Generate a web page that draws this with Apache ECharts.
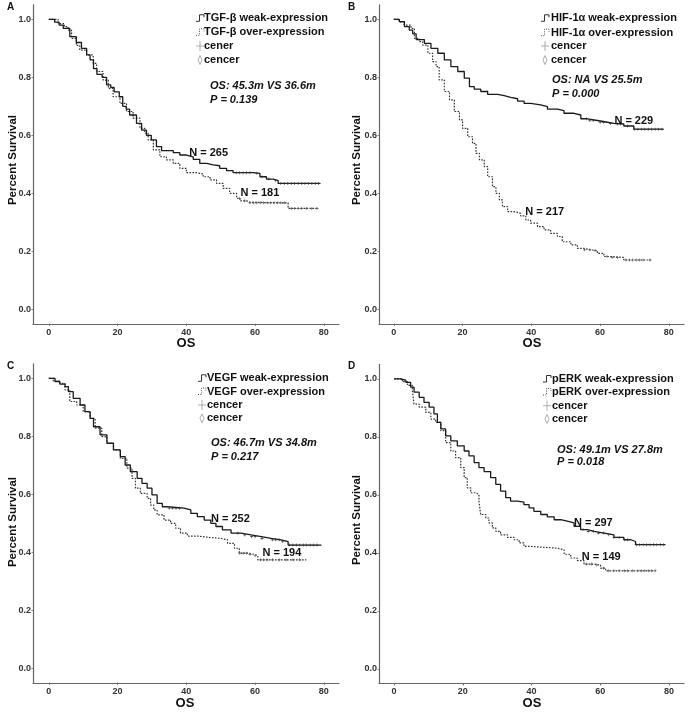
<!DOCTYPE html>
<html><head><meta charset="utf-8">
<script src="https://cdn.jsdelivr.net/npm/echarts@6/dist/echarts.min.js"></script>
<style>html,body{margin:0;padding:0;background:#fff}#c{width:689px;height:713px}</style>
</head><body><div id="c"></div><script>
// ---------------- DATA ----------------
const xTicks = [0, 20, 40, 60, 80];
const yTicks = [0, 0.2, 0.4, 0.6, 0.8, 1.0];

// Panel A: TGF-beta
const aWeak = [[0,1],[1.7,0.99],[3,0.98],[4.2,0.969],[6.1,0.94],[8,0.92],[9.5,0.9],[11,0.877],[12,0.86],[13,0.83],[14,0.81],[15.5,0.8],[16.8,0.774],[18,0.765],[19,0.75],[20.5,0.733],[21.5,0.7],[22.5,0.69],[23.5,0.67],[25.5,0.641],[27,0.618],[28.4,0.6],[29.8,0.584],[31.3,0.561],[32.8,0.547],[36.2,0.54],[38.1,0.532],[40,0.526],[42,0.517],[43.9,0.503],[45.9,0.498],[47.8,0.495],[49.7,0.486],[51.7,0.478],[53.6,0.471],[59.4,0.469],[61.4,0.457],[63.3,0.449],[65.3,0.444],[66.7,0.434],[79,0.434]];
const aOver = [[0,1],[2.7,0.985],[4.5,0.975],[5.6,0.963],[6.6,0.934],[8,0.91],[9,0.894],[11,0.877],[12.9,0.848],[13.9,0.82],[15.8,0.79],[17.3,0.762],[18.7,0.733],[20.7,0.71],[22.6,0.682],[24.5,0.659],[26.5,0.624],[27.9,0.607],[28.9,0.584],[30.4,0.55],[32.3,0.526],[34.2,0.515],[36.2,0.503],[38.1,0.486],[40,0.471],[42.9,0.467],[44.9,0.457],[46.9,0.446],[48.8,0.434],[50.7,0.417],[52.6,0.4],[54.6,0.383],[55.6,0.374],[57.5,0.369],[58.5,0.367],[69.6,0.348],[78.4,0.348]];
const aWeakCens = [54.5,55.5,56.5,57.5,58.5,60.5,62,64,66,67.5,68.5,69.5,70.5,71.5,72.5,73.5,74.5,75.5,76.5,77.5,78.5];
const aOverCens = [55.5,57,58.5,59.5,60.5,61.5,62.5,63.5,64.5,65.5,66.5,67.5,68.5,70.5,71.5,72.5,73.5,75,76.5,78];
const aNotes = [[46.5,0.539,'N = 265'],[61.4,0.401,'N = 181']];
const aLegend = ['TGF-β weak-expression','TGF-β over-expression','cener','cencer'];
const aStats = ['OS: 45.3m VS 36.6m','P = 0.139'];

// Panel B: HIF-1alpha
const bWeak = [[0,1],[1.6,0.992],[3.1,0.975],[4.5,0.963],[5.5,0.95],[6.5,0.93],[8.9,0.917],[10.8,0.9],[12.8,0.883],[14.7,0.86],[16.6,0.837],[18.6,0.82],[20.5,0.797],[22,0.768],[23.4,0.759],[25.3,0.751],[27.3,0.741],[30.2,0.737],[32.1,0.731],[34,0.726],[36,0.718],[37.9,0.71],[39.8,0.705],[42.7,0.699],[44.7,0.69],[47.6,0.685],[49.5,0.676],[52.4,0.67],[54.4,0.657],[56.3,0.651],[59.2,0.645],[62.1,0.641],[64,0.639],[66.9,0.632],[69.8,0.621],[78.5,0.621]];
const bOver = [[0,1],[1.6,0.99],[3,0.98],[5,0.969],[6,0.934],[7.4,0.923],[8.4,0.911],[9.9,0.883],[11.3,0.854],[12.3,0.837],[13.2,0.791],[14.7,0.751],[16.2,0.722],[17.6,0.682],[19.1,0.653],[20,0.624],[21.5,0.595],[22.9,0.572],[23.9,0.538],[24.9,0.515],[26.3,0.492],[27.3,0.457],[28.7,0.423],[29.7,0.4],[30.7,0.377],[31.6,0.354],[33.1,0.337],[35,0.331],[36.9,0.322],[38.4,0.308],[39.8,0.297],[41.8,0.285],[43.7,0.274],[45.6,0.262],[47.6,0.251],[49,0.233],[51.5,0.222],[53.4,0.21],[55.3,0.205],[57.3,0.202],[59.2,0.193],[61.1,0.182],[63.1,0.179],[66.9,0.17],[75.1,0.17]];
const bWeakCens = [56,57,58,60,61,63,65,66,68,70,71,72,73,74,75,76,77,78];
const bOverCens = [55.5,57,58.5,62,63.5,65,67.5,68.5,69.5,70.5,71.5,72.5,74.5];
const bNotes = [[69.8,0.651,'N = 229'],[43.9,0.334,'N = 217']];
const bLegend = ['HIF-1α weak-expression','HIF-1α over-expression','cencer','cencer'];
const bStats = ['OS: NA VS 25.5m','P = 0.000'];

// Panel C: VEGF
const cWeak = [[0,1],[1.8,0.989],[3.2,0.98],[4.7,0.971],[5.7,0.954],[7.1,0.931],[9.1,0.908],[10.5,0.885],[12,0.862],[13,0.833],[14.9,0.805],[16.9,0.776],[18.8,0.753],[20.8,0.73],[22.2,0.701],[23.7,0.678],[25.7,0.655],[27.1,0.638],[28.6,0.621],[30,0.598],[31.5,0.569],[33,0.557],[34.4,0.552],[39.3,0.546],[41.3,0.534],[43.2,0.523],[45.2,0.511],[47.1,0.5],[48.6,0.489],[50.5,0.477],[53,0.466],[55.9,0.46],[58.8,0.454],[61.8,0.448],[64.7,0.443],[67.6,0.437],[69.6,0.425],[79.3,0.425]];
const cOver = [[0,1],[1.3,0.99],[3.2,0.983],[4.7,0.96],[6.1,0.92],[8.1,0.908],[10,0.885],[12,0.862],[13.5,0.828],[15.4,0.799],[16.9,0.776],[18.8,0.753],[20.8,0.724],[22.7,0.69],[24.2,0.655],[25.2,0.621],[26.6,0.603],[28.6,0.586],[29.6,0.563],[30.5,0.546],[31.5,0.529],[33.5,0.511],[35.4,0.5],[36.9,0.483],[38.3,0.466],[40.3,0.456],[43.2,0.451],[47.1,0.448],[50,0.443],[52,0.431],[54,0.414],[55.4,0.397],[57.9,0.393],[59.8,0.388],[60.8,0.374],[74.9,0.374]];
const cWeakCens = [35,36,37,38,55,57,59,60,62,65,66,67,68,70,71,72,73,74,75,76,77,78];
const cOverCens = [55.5,56.5,57.5,58.5,60,61.5,62.5,63.5,65,67,69,71,73];
const cNotes = [[52.8,0.515,'N = 252'],[67.8,0.397,'N = 194']];
const cLegend = ['VEGF weak-expression','VEGF over-expression','cencer','cencer'];
const cStats = ['OS: 46.7m VS 34.8m','P = 0.217'];

// Panel D: pERK
const dWeak = [[0,1],[1.9,0.995],[3.4,0.988],[4.8,0.971],[5.8,0.954],[7.3,0.936],[8.7,0.919],[10.2,0.902],[11.6,0.879],[12.6,0.85],[13.6,0.827],[15,0.803],[16.5,0.786],[18.4,0.769],[20.4,0.751],[21.8,0.734],[23.3,0.711],[24.7,0.694],[26.2,0.68],[28.1,0.659],[29.6,0.636],[31,0.613],[32.5,0.59],[33.9,0.578],[35.9,0.575],[37.8,0.566],[39.3,0.555],[40.7,0.543],[42.7,0.532],[44.6,0.524],[46.6,0.514],[48.5,0.509],[50.4,0.503],[52.4,0.491],[54.3,0.48],[56.3,0.474],[58.2,0.468],[61.1,0.462],[64,0.453],[66.9,0.445],[68.9,0.439],[70.3,0.428],[79,0.428]];
const dOver = [[0,1],[2.4,0.99],[3.9,0.977],[5.3,0.96],[5.8,0.913],[7.3,0.902],[9.2,0.884],[10.7,0.861],[12.1,0.85],[13.6,0.821],[15,0.78],[16.5,0.751],[17.9,0.728],[19.4,0.694],[20.4,0.659],[21.3,0.624],[22.3,0.607],[23.8,0.601],[24.7,0.578],[25.2,0.532],[26.7,0.52],[27.6,0.503],[28.6,0.486],[29.6,0.474],[31,0.462],[33,0.453],[34.9,0.445],[36.4,0.434],[37.8,0.422],[39.8,0.419],[43.6,0.416],[47.5,0.41],[49.5,0.395],[51.4,0.382],[53.3,0.373],[55.3,0.361],[58.2,0.358],[60.1,0.347],[61.6,0.338],[76.1,0.338]];
const dWeakCens = [55,56.5,58,59.5,61,62.5,64,65.5,67,68,70.5,71.5,72.5,73.5,74.5,75.5,76.5,77.5,78.5];
const dOverCens = [56,57.5,59,61,62.5,64,65.5,67,68,69.5,71,72,73,74,75,76];
const dNotes = [[58,0.503,'N = 297'],[60.3,0.387,'N = 149']];
const dLegend = ['pERK weak-expression','pERK over-expression','cencer','cencer'];
const dStats = ['OS: 49.1m VS 27.8m','P = 0.018'];

const yTitle = 'Percent Survival';
const xTitle = 'OS';

// ---------------- LAYOUT ----------------
const FONT = '"Liberation Sans", Arial, sans-serif';
const layout = [
  {letter:'A', lx:7,  ly:7,   grid:{left:33,  top:4.8,   width:306, height:319}, xmin:-4.6, sym:196, txt:204, rows:[18.3,32.3,46,60],      sx:210, sy:[86,99.5],   yt:[13,160], xt:[186,343]},
  {letter:'B', lx:348,ly:7,   grid:{left:379, top:4.8,   width:305, height:319}, xmin:-4.3, sym:541, txt:551, rows:[18.3,32.7,46,60],      sx:552, sy:[80,94],     yt:[357,160], xt:[532,343]},
  {letter:'C', lx:7,  ly:366, grid:{left:33,  top:363.8, width:306, height:319}, xmin:-4.6, sym:198, txt:207, rows:[378.3,391.5,405,418.3], sx:211, sy:[443,456.5], yt:[13,522], xt:[185,703]},
  {letter:'D', lx:348,ly:366, grid:{left:379, top:364.3, width:305, height:319}, xmin:-4.4, sym:543, txt:552, rows:[379,392,405.7,419],    sx:557, sy:[450,462],   yt:[357,520], xt:[532,703]}
];
const panels = [
  {weak:aWeak, over:aOver, wc:aWeakCens, oc:aOverCens, notes:aNotes, legend:aLegend, stats:aStats},
  {weak:bWeak, over:bOver, wc:bWeakCens, oc:bOverCens, notes:bNotes, legend:bLegend, stats:bStats},
  {weak:cWeak, over:cOver, wc:cWeakCens, oc:cOverCens, notes:cNotes, legend:cLegend, stats:cStats},
  {weak:dWeak, over:dOver, wc:dWeakCens, oc:dOverCens, notes:dNotes, legend:dLegend, stats:dStats}
];

function stepAt(curve, t) {
  let s = curve[0][1];
  for (const [ti, si] of curve) { if (ti <= t) s = si; else break; }
  return s;
}
const PLUS = 'path://M-0.2,-1H0.2V-0.2H1V0.2H0.2V1H-0.2V0.2H-1V-0.2H-0.2Z';

const grids = [], xAxes = [], yAxes = [], series = [], graphics = [];
layout.forEach((L, i) => {
  const P = panels[i];
  grids.push(Object.assign({containLabel:false}, L.grid));
  xAxes.push({
    type:'value', gridIndex:i, min:L.xmin, max:84.4,
    axisLine:{show:true, onZero:false, lineStyle:{color:'#666', width:1.2}},
    axisTick:{show:true, length:2, customValues:xTicks, lineStyle:{color:'#666'}},
    axisLabel:{customValues:xTicks, margin:4, fontFamily:FONT, fontWeight:'bold', fontSize:9, color:'#333'},
    splitLine:{show:false}
  });
  yAxes.push({
    type:'value', gridIndex:i, min:-0.05, max:1.05,
    axisLine:{show:true, onZero:false, lineStyle:{color:'#666', width:1.2}},
    axisTick:{show:true, length:1.5, customValues:yTicks, lineStyle:{color:'#888'}},
    axisLabel:{customValues:yTicks, margin:2, formatter:v => v.toFixed(1), fontFamily:FONT, fontWeight:'bold', fontSize:9, color:'#333'},
    splitLine:{show:false}
  });
  series.push({type:'line', xAxisIndex:i, yAxisIndex:i, step:'end', showSymbol:false, silent:true,
    data:P.weak, lineStyle:{color:'#1a1a1a', width:1.3}, z:3});
  series.push({type:'line', xAxisIndex:i, yAxisIndex:i, step:'end', showSymbol:false, silent:true,
    data:P.over, lineStyle:{color:'#333', width:1.2, type:[1.6,1.4]}, z:2});
  series.push({type:'scatter', xAxisIndex:i, yAxisIndex:i, symbol:PLUS, symbolSize:3, silent:true,
    data:P.wc.map(t => [t, stepAt(P.weak, t)]), itemStyle:{color:'#333', opacity:1}, z:4});
  series.push({type:'scatter', xAxisIndex:i, yAxisIndex:i, symbol:PLUS, symbolSize:3, silent:true,
    data:P.oc.map(t => [t, stepAt(P.over, t)]), itemStyle:{color:'#555', opacity:1}, z:4});
  series.push({type:'scatter', xAxisIndex:i, yAxisIndex:i, symbolSize:0, silent:true, z:5,
    itemStyle:{color:'#111', opacity:1},
    data:P.notes.map(n => ({value:[n[0], n[1]], name:n[2]})),
    label:{show:true, position:'inside', formatter:p => p.name, fontFamily:FONT, fontWeight:'bold', fontSize:11, color:'#111', opacity:1, textBorderWidth:0}});

  // axis titles
  graphics.push({type:'text', x:L.yt[0], y:L.yt[1], rotation:Math.PI/2,
    style:{text:yTitle, fontFamily:FONT, fontWeight:'bold', fontSize:11.5, fill:'#111', align:'center', verticalAlign:'middle'}});
  graphics.push({type:'text', x:L.xt[0], y:L.xt[1],
    style:{text:xTitle, fontFamily:FONT, fontWeight:'bold', fontSize:13, fill:'#111', align:'center', verticalAlign:'middle'}});
  // panel letter
  graphics.push({type:'text', left:L.lx, top:L.ly - 5, style:{text:L.letter, fontFamily:FONT, fontWeight:'bold', fontSize:10, fill:'#111'}});
  // legend
  const s = L.sym, r = L.rows;
  graphics.push({type:'polyline', shape:{points:[[s,r[0]+3],[s+3.5,r[0]+3],[s+3.5,r[0]-3.5],[s+8,r[0]-3.5],[s+8,r[0]-1]]}, style:{stroke:'#333', lineWidth:1, fill:null}});
  graphics.push({type:'polyline', shape:{points:[[s,r[1]+3],[s+3.5,r[1]+3],[s+3.5,r[1]-3.5],[s+8,r[1]-3.5],[s+8,r[1]-1]]}, style:{stroke:'#555', lineWidth:1, lineDash:[1,1.3], fill:null}});
  graphics.push({type:'line', shape:{x1:s, y1:r[2], x2:s+8, y2:r[2]}, style:{stroke:'#999', lineWidth:0.8}});
  graphics.push({type:'line', shape:{x1:s+4, y1:r[2]-5, x2:s+4, y2:r[2]+5}, style:{stroke:'#999', lineWidth:0.8}});
  graphics.push({type:'polygon', shape:{points:[[s+4,r[3]-4.5],[s+6,r[3]],[s+4,r[3]+4.5],[s+2,r[3]]]}, style:{stroke:'#999', lineWidth:0.8, fill:null}});
  P.legend.forEach((t, k) => {
    graphics.push({type:'text', x:L.txt, y:r[k], style:{text:t, fontFamily:FONT, fontWeight:'bold', fontSize:11, fill:'#111', verticalAlign:'middle', align:'left'}});
  });
  P.stats.forEach((t, k) => {
    graphics.push({type:'text', x:L.sx, y:L.sy[k], style:{text:t, fontFamily:FONT, fontWeight:'bold', fontStyle:'italic', fontSize:11, fill:'#111', verticalAlign:'middle', align:'left'}});
  });
});

const chart = echarts.init(document.getElementById('c'), null, {renderer:'canvas'});
chart.setOption({
  animation:false, backgroundColor:'#fff',
  grid:grids, xAxis:xAxes, yAxis:yAxes, series:series, graphic:graphics
});
</script></body></html>
